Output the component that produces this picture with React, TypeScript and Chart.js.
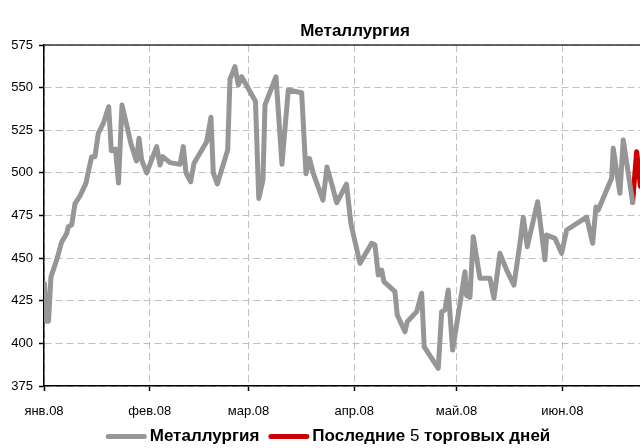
import React, { useEffect, useRef } from "react";
import { Chart, registerables } from "chart.js";

Chart.register(...registerables);

const FONT = "'Liberation Sans', Arial, sans-serif";

const chartTitle = "Металлургия";
const seriesLabel = "Металлургия";
const recentLabel = "Последние 5 торговых дней";

// month start positions (days since 1 Jan 2008) and their labels
const monthTicks = [0, 31, 60, 91, 121, 152];
const monthLabels = ["янв.08", "фев.08", "мар.08", "апр.08", "май.08", "июн.08"];

const yMin = 375;
const yMax = 575;
const yStep = 25;
const xMax = 174.8;

// trading days (days since 1 Jan 2008) and index values
const days = [
  0.15, 0.73, 1.32, 2.05, 3.72, 5.19, 6.66, 7.13, 8.12, 9.09,
  10.56, 12.32, 12.99, 13.99, 14.96, 15.92, 17.39, 18.97, 19.74, 20.97,
  21.85, 22.87, 24.49, 25.51, 27.13, 27.86, 28.65, 30.12, 33.05, 34.02,
  34.81, 36.95, 39.88, 40.85, 41.64, 43.02, 43.99, 47.71, 48.97, 49.65,
  50.82, 53.87, 54.55, 56.01, 56.98, 57.98, 62.02, 62.99, 64.22, 64.81,
  68.04, 69.79, 71.64, 75.57, 76.83, 77.86, 78.97, 81.82, 82.99, 84.46,
  85.84, 88.71, 90.03, 92.67, 96.1, 97.07, 98.03, 99.03, 99.71, 102.93,
  103.61, 105.87, 106.54, 109.3, 110.76, 111.52, 115.63, 116.63, 117.6, 118.56,
  119.85, 123.46, 123.96, 124.93, 125.89, 127.86, 130.79, 131.96, 133.72, 135.69,
  137.83, 139.59, 140.56, 141.73, 144.78, 146.92, 147.42, 149.85, 151.82, 153.28,
  159.15, 160.91, 161.88, 162.55, 166.48, 166.95, 168.91, 169.88, 172.64,
];
const values = [
  435, 413, 413, 439, 449, 459.5, 464.5, 468.4, 469.5, 482,
  486.5, 494, 500.7, 509.5, 509.5, 523.2, 529, 538.8, 513, 514,
  494, 539.8, 526, 517, 507, 520.3, 507.5, 500, 515.4, 504.6,
  509.5, 506, 505, 515.4, 500, 494.8, 505.6, 518.3, 532.6, 500,
  493.5, 513.4, 555, 562.3, 551.5, 556.4, 542, 485, 495.8, 539.8,
  556.4, 505, 548.6, 547, 499.5, 508.5, 499.7, 484, 503.4, 493,
  482.5, 493.4, 470, 447, 458.7, 457.7, 440.1, 443, 436.2, 430.3,
  416.6, 406.8, 412.7, 418.6, 429.4, 398, 385.4, 418.6, 419.6, 431.3,
  396.1, 442, 428, 427, 462.6, 438.2, 438.2, 426.4, 452.8, 443,
  434.2, 458.7, 474, 456.7, 483.1, 449, 463.6, 461.6, 452.8, 466.5,
  474, 458.7, 480, 478.2, 496.8, 514.4, 488, 519.3, 482.7,
];

const recentDays = [172.64, 173.81, 174.93];
const recentValues = [482.7, 512.4, 492];

const decorPlugin = {
  id: "decor",
  afterDraw(chart: any) {
    const { ctx, chartArea: a } = chart;
    ctx.save();
    // top frame line
    ctx.strokeStyle = "#333";
    ctx.lineWidth = 1.5;
    ctx.setLineDash([]);
    ctx.beginPath();
    ctx.moveTo(a.left, a.top);
    ctx.lineTo(a.right, a.top);
    ctx.stroke();

    // title
    ctx.fillStyle = "#000";
    ctx.font = `bold 17px ${FONT}`;
    ctx.textAlign = "center";
    ctx.textBaseline = "middle";
    ctx.fillText(chartTitle, 355, 31);

    // legend
    const sample = 41;
    const gapText = 3;
    const gapItem = 9;
    const y = 436.5;
    const runsOf = (label: string) =>
      label.split(/(\d+)/).filter((s) => s.length > 0).map((s) => ({
        text: s,
        font: /^\d+$/.test(s) ? `17px ${FONT}` : `bold 17px ${FONT}`,
      }));
    const items = chart.data.datasets.map((ds: any) => {
      const runs = runsOf(ds.label);
      let w = 0;
      runs.forEach((r: any) => {
        ctx.font = r.font;
        r.w = ctx.measureText(r.text).width;
        w += r.w;
      });
      return { runs, w, color: ds.borderColor };
    });
    let total = 0;
    items.forEach((it: any, i: number) => {
      total += sample + gapText + it.w + (i > 0 ? gapItem : 0);
    });
    let x = 328 - total / 2;
    ctx.textAlign = "left";
    items.forEach((it: any, i: number) => {
      if (i > 0) x += gapItem;
      ctx.strokeStyle = it.color;
      ctx.lineWidth = 5;
      ctx.lineCap = "round";
      ctx.beginPath();
      ctx.moveTo(x + 2.5, y);
      ctx.lineTo(x + sample - 2.5, y);
      ctx.stroke();
      x += sample + gapText;
      it.runs.forEach((r: any) => {
        ctx.font = r.font;
        ctx.fillStyle = "#000";
        ctx.fillText(r.text, x, y);
        x += r.w;
      });
    });
    ctx.restore();
  },
};

export default function App() {
  const ref = useRef<HTMLCanvasElement | null>(null);

  useEffect(() => {
    document.body.style.margin = "0";
    if (!ref.current) return;
    const chart = new Chart(ref.current, {
      type: "line",
      data: {
        datasets: [
          {
            label: seriesLabel,
            data: days.map((d, i) => ({ x: d, y: values[i] })),
            borderColor: "#969696",
            borderWidth: 5,
            pointRadius: 0,
            tension: 0,
            borderJoinStyle: "round",
            borderCapStyle: "round",
          },
          {
            label: recentLabel,
            data: recentDays.map((d, i) => ({ x: d, y: recentValues[i] })),
            borderColor: "#cc0000",
            borderWidth: 5,
            pointRadius: 0,
            tension: 0,
            borderJoinStyle: "round",
            borderCapStyle: "round",
          },
        ],
      },
      options: {
        animation: false,
        responsive: false,
        layout: { padding: { top: 45, right: 0, bottom: 0, left: 0 } },
        plugins: {
          legend: { display: false },
          title: { display: false },
          tooltip: { enabled: false },
        },
        scales: {
          x: {
            type: "linear",
            min: 0,
            max: xMax,
            afterBuildTicks: (s: any) => {
              s.ticks = monthTicks.map((v) => ({ value: v }));
            },
            afterFit: (s: any) => {
              s.height = 62;
            },
            ticks: {
              autoSkip: false,
              maxRotation: 0,
              color: "#000",
              padding: 13,
              font: { family: FONT, size: 13 },
              callback: (_v: any, i: number) => monthLabels[i],
            },
            grid: {
              color: "#c0c0c0",
              lineWidth: 1,
              tickLength: 5,
              tickColor: "#000",
              tickWidth: 1.5,
            },
            border: { color: "#000", width: 1.5, dash: [7, 4] },
          },
          y: {
            min: yMin,
            max: yMax,
            afterFit: (s: any) => {
              s.width = 44;
            },
            ticks: {
              stepSize: yStep,
              color: "#000",
              padding: 6,
              font: { family: FONT, size: 13 },
            },
            grid: {
              color: "#c0c0c0",
              lineWidth: 1,
              tickLength: 5,
              tickColor: "#000",
              tickWidth: 1.5,
            },
            border: { color: "#000", width: 1.5, dash: [7, 4] },
          },
        },
      },
      plugins: [decorPlugin],
    } as any);
    return () => chart.destroy();
  }, []);

  return (
    <div style={{ width: 640, height: 448 }}>
      <canvas ref={ref} width={640} height={448} style={{ display: "block" }} />
    </div>
  );
}
